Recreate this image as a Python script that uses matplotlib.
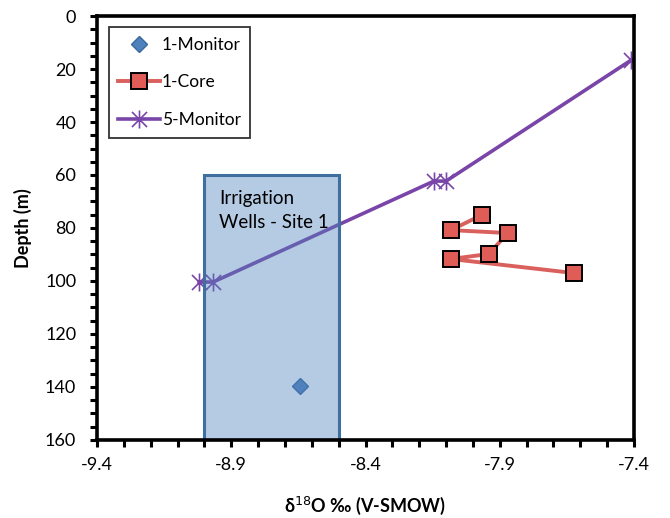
import matplotlib.pyplot as plt
from matplotlib.patches import Rectangle
from matplotlib.path import Path
from matplotlib.ticker import MultipleLocator

plt.rcParams["font.family"] = ["Lato", "DejaVu Sans"]

# 1-Monitor
mon1_x = [-8.645]
mon1_depth = [139.5]

# 1-Core
core_x = [-7.967, -8.082, -7.870, -7.941, -8.082, -7.624]
core_depth = [75.1, 80.8, 81.9, 89.8, 91.7, 97.0]

# 5-Monitor
mon5_x = [-7.41, -8.10, -8.145, -8.968, -9.02]
mon5_depth = [16.6, 62.3, 62.3, 100.4, 100.4]

# irrigation wells range
wells_x = (-9.0, -8.5)
wells_depth = (60, 160)

# six-arm star marker (X plus vertical bar)
star = Path(
    [(-1, -1), (1, 1), (-1, 1), (1, -1), (0, -1.2), (0, 1.2)],
    [Path.MOVETO, Path.LINETO, Path.MOVETO, Path.LINETO, Path.MOVETO, Path.LINETO],
)

fig = plt.figure(figsize=(6.7, 5.18), dpi=100)
ax = fig.add_axes([0.1448, 0.1506, 0.8015, 0.8185])

ax.plot(mon1_x, mon1_depth, ls="none", marker="D", ms=8.5,
        mfc="#4f81bd", mec="#3a679c", label="1-Monitor", zorder=2)
ax.plot(core_x, core_depth, color="#d9605c", lw=2.8, marker="s", ms=12,
        mfc="#e05c56", mec="black", mew=1.4, label="1-Core", zorder=3)
ax.plot(mon5_x, mon5_depth, color="#7a45a8", lw=2.6, marker=star, ms=13,
        mec="#7a45a8", mew=1.2, label="5-Monitor", zorder=2)

ax.add_patch(Rectangle((wells_x[0], wells_depth[0]), wells_x[1] - wells_x[0],
                       wells_depth[1] - wells_depth[0],
                       fc=(0.31, 0.51, 0.74, 0.42), ec="#3f6f9f", lw=2.2,
                       zorder=2.5))
ax.text(-8.945, 65.5, "Irrigation\nWells - Site 1", fontsize=13.5,
        va="top", ha="left", linespacing=1.55, zorder=4)

ax.set_xlim(-9.4, -7.4)
ax.set_ylim(160, 0)
ax.xaxis.set_major_locator(MultipleLocator(0.5))
ax.xaxis.set_minor_locator(MultipleLocator(0.1))
ax.yaxis.set_major_locator(MultipleLocator(20))
ax.yaxis.set_minor_locator(MultipleLocator(5))
ax.set_xticks([-9.4, -8.9, -8.4, -7.9, -7.4])
ax.set_xticklabels(["-9.4", "-8.9", "-8.4", "-7.9", "-7.4"])
ax.tick_params(which="both", direction="out", length=5, width=2.2,
               labelsize=13, pad=7)
ax.tick_params(axis="y", pad=10)
for s in ax.spines.values():
    s.set_linewidth(2.6)

ax.set_xlabel("δ$^{18}$O ‰ (V-SMOW)", fontsize=13, fontweight="bold",
              labelpad=16)
ax.set_ylabel("Depth (m)", fontsize=13, fontweight="bold", labelpad=9)

leg = ax.legend(loc="upper left", bbox_to_anchor=(0.022, 0.974), fontsize=12.5,
                frameon=True, fancybox=False, edgecolor="black",
                handlelength=2.4, handletextpad=0.1, labelspacing=1.25,
                borderpad=0.55, borderaxespad=0)
leg.get_frame().set_linewidth(1.3)

fig.savefig("out.png", dpi=100)
